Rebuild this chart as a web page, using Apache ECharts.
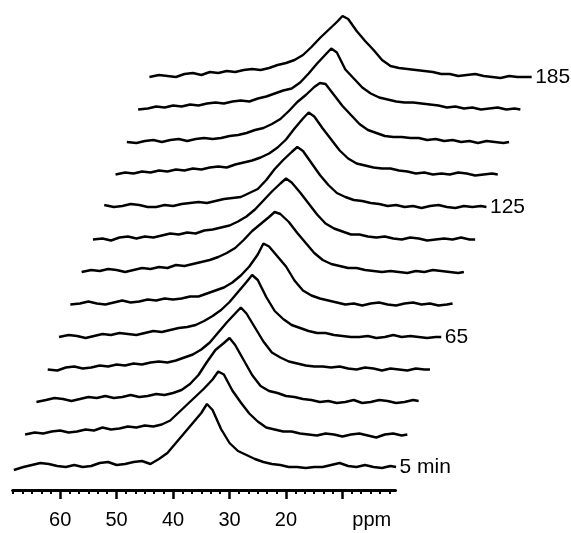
<!DOCTYPE html>
<html><head><meta charset="utf-8">
<script src="https://cdn.jsdelivr.net/npm/echarts@6.0.0/dist/echarts.min.js"></script>
<style>html,body{margin:0;padding:0;background:#fff}#c{width:571px;height:533px}</style>
</head><body><div id="c"></div>
<script>
// chemical shift sample positions (ppm), shared by all spectra
const ppm = [68.2, 66.5, 65, 63.5, 62, 60.5, 59, 57.5, 56, 54.5, 53, 51.5, 50, 48.5, 47, 45.5, 44, 42.5, 41, 39.5, 38, 36.5, 35, 34, 33, 31.5, 30, 28.5, 27, 25.5, 24, 22.5, 21, 19.5, 18, 16.5, 15, 13.5, 12, 10.5, 9, 7.5, 6, 4.5, 3, 1.5, 0.5];

// acquisition times (min) and the labels printed at the right end
const minutes = [5, 20, 35, 50, 65, 80, 95, 110, 125, 140, 155, 170, 185];
const traceLabels = ['5 min', '', '', '', '65', '', '', '', '125', '', '', '', '185'];

// intensities (arbitrary units)
const spec005 = [-3,0,2,4,3,1,0,2,0,1, 4,5,2,3,5,6,3,8,14,24, 34,44,54,63,57,38,24,16,12,8, 5,3,2,0,0,-1,0,0,2,4, 1,0,2,0,-1,1,0];
const spec020 = [0,2,1,3,4,2,3,5,4,7, 5,6,8,7,9,8,10,14,22,30, 38,46,55,63,60,44,32,21,13,7, 5,3,3,1,0,-1,1,0,-2,0, 1,-1,-3,0,1,-1,0];
const spec035 = [0,2,4,3,1,3,5,4,6,4, 5,7,5,6,8,7,9,12,18,27, 40,52,59,64,57,42,27,16,11,9, 6,5,3,2,0,1,-1,0,2,-1, 0,2,1,-1,0,2,1];
const spec050 = [0,-1,2,3,1,2,4,3,5,4, 6,5,7,8,7,9,12,15,20,27, 37,47,56,62,56,42,28,17,12,8, 6,4,3,3,2,3,1,0,2,1, -1,1,0,-1,1,0,0];
const spec065 = [0,2,1,-1,1,3,2,4,3,2, 4,6,5,7,9,10,12,16,21,27, 35,45,55,62,57,40,26,18,12,9, 6,4,4,2,1,0,0,1,-1,0, 2,0,1,0,-1,0,0];
const spec080 = [0,1,3,1,0,2,4,2,3,5, 4,6,5,6,8,8,11,14,17,22, 29,38,50,61,58,48,38,24,14,9, 6,4,2,0,1,-1,1,2,0,-1, 1,2,0,1,-1,0,1];
const spec095 = [0,2,1,3,2,0,2,4,3,5, 4,7,6,8,10,12,15,19,24,32, 41,48,55,60,58,50,39,29,19,12, 8,6,4,4,2,1,0,1,0,-1, 1,0,2,1,0,-1,0];
const spec110 = [0,1,-1,2,3,1,3,2,4,6, 5,7,6,9,10,12,14,18,23,30, 39,48,56,61,57,47,36,25,16,11, 8,5,5,3,2,3,1,0,2,1, -1,0,1,0,2,0,0];
const spec125 = [2,0,1,3,2,0,0,2,1,3, 4,5,4,6,8,9,10,14,18,27, 38,47,55,60,56,44,32,22,14,10, 7,6,4,3,1,2,0,1,-1,1, 2,0,-1,1,0,1,0];
const spec140 = [0,2,1,3,2,4,3,5,4,6, 5,7,8,7,10,12,14,17,21,27, 35,46,56,62,58,46,35,24,16,11, 9,7,6,6,4,3,1,2,0,1, 0,2,1,-1,0,1,0];
const spec155 = [0,-1,1,2,0,2,3,1,3,4, 3,4,6,7,9,12,14,18,23,31, 40,47,55,59,58,47,36,27,18,12, 9,6,5,5,4,4,2,3,1,2, 0,1,-1,1,0,-1,0];
const spec170 = [0,1,3,2,4,3,5,4,6,7, 6,8,9,8,11,13,16,19,21,27, 36,46,55,61,57,40,31,22,16,12, 10,8,7,7,6,5,4,2,3,1, 2,0,1,2,0,1,0];
const spec185 = [0,2,1,0,3,4,2,5,4,6, 5,7,8,7,9,12,14,17,22,30, 39,47,55,61,58,46,36,27,17,11, 9,8,7,6,5,3,3,1,2,3, 1,0,-1,1,0,0,0];

// axis ticks and labels
const majorTicks = [60, 50, 40, 30, 20, 10];
const minorTicks = [68.33, 66.67, 65, 63.33, 61.67, 58.33, 56.67, 55, 53.33, 51.67, 48.33, 46.67, 45, 43.33, 41.67, 38.33, 36.67, 35, 33.33, 31.67, 28.33, 26.67, 25, 23.33, 21.67, 18.33, 16.67, 15, 13.33, 11.67, 8.33, 6.67, 5, 3.33, 1.67];
const tickLabelValues = [60, 50, 40, 30, 20, 4.8];
const tickLabelTexts = ['60', '50', '40', '30', '20', 'ppm'];

const spectra = [spec005, spec020, spec035, spec050, spec065, spec080, spec095, spec110, spec125, spec140, spec155, spec170, spec185];

// waterfall layout (pixels)
const X0 = 12.7, DX = 11.3, BASE0 = 467, DY = 32.5, W = 382.8;
const YMIN = -10, YMAX = 70;
const XMIN = 0.6, XMAX = 68.4;
const INK = '#000';
const FONT = 'Liberation Sans';

const grids = [], xAxes = [], yAxes = [], series = [];
spectra.forEach((vals, i) => {
  const base = BASE0 - DY * i;
  grids.push({ left: X0 + DX * i, top: base - YMAX, width: W, height: YMAX - YMIN });
  yAxes.push({ gridIndex: i, type: 'value', min: YMIN, max: YMAX, show: false });
  if (i === 0) {
    xAxes.push({
      gridIndex: 0, type: 'value', inverse: true, min: XMIN, max: XMAX, position: 'bottom', offset: 13,
      axisLine: { show: true, onZero: false, lineStyle: { color: INK, width: 3 } },
      axisTick: { show: true, customValues: majorTicks, length: 9, lineStyle: { color: INK, width: 2.5 } },
      axisLabel: {
        show: true, customValues: tickLabelValues, margin: 20, fontSize: 20, color: INK, fontFamily: FONT,
        formatter: v => { const k = tickLabelValues.indexOf(v); return k >= 0 ? tickLabelTexts[k] : ''; }
      },
      splitLine: { show: false }
    });
    xAxes.push({
      gridIndex: 0, type: 'value', inverse: true, min: XMIN, max: XMAX, position: 'bottom', offset: 13,
      axisLine: { show: false, onZero: false },
      axisTick: { show: true, customValues: minorTicks, length: 4, lineStyle: { color: INK, width: 2 } },
      axisLabel: { show: false },
      splitLine: { show: false }
    });
  } else {
    xAxes.push({ gridIndex: i, type: 'value', inverse: true, min: XMIN, max: XMAX, show: false });
  }
  const xIdx = i === 0 ? 0 : i + 1;
  series.push({
    type: 'line', name: String(minutes[i]),
    xAxisIndex: xIdx, yAxisIndex: i,
    data: ppm.map((p, k) => [p, vals[k]]),
    showSymbol: false, symbol: 'none', clip: false, silent: true,
    lineStyle: { color: INK, width: 2.4 },
    z: 2
  });
  if (traceLabels[i]) {
    const last = ppm.length - 1;
    series.push({
      type: 'scatter', name: traceLabels[i],
      xAxisIndex: xIdx, yAxisIndex: i, clip: false, silent: true,
      symbolSize: 1, itemStyle: { color: INK, opacity: 0 },
      data: [[ppm[last], vals[last]]],
      label: { show: true, position: 'right', distance: 3, formatter: traceLabels[i],
               fontSize: 21, color: INK, opacity: 1, fontFamily: FONT },
      z: 3
    });
  }
});

const chart = echarts.init(document.getElementById('c'), null, { renderer: 'canvas' });
chart.setOption({
  backgroundColor: '#fff',
  animation: false,
  grid: grids, xAxis: xAxes, yAxis: yAxes, series: series
});
</script>
</body></html>
